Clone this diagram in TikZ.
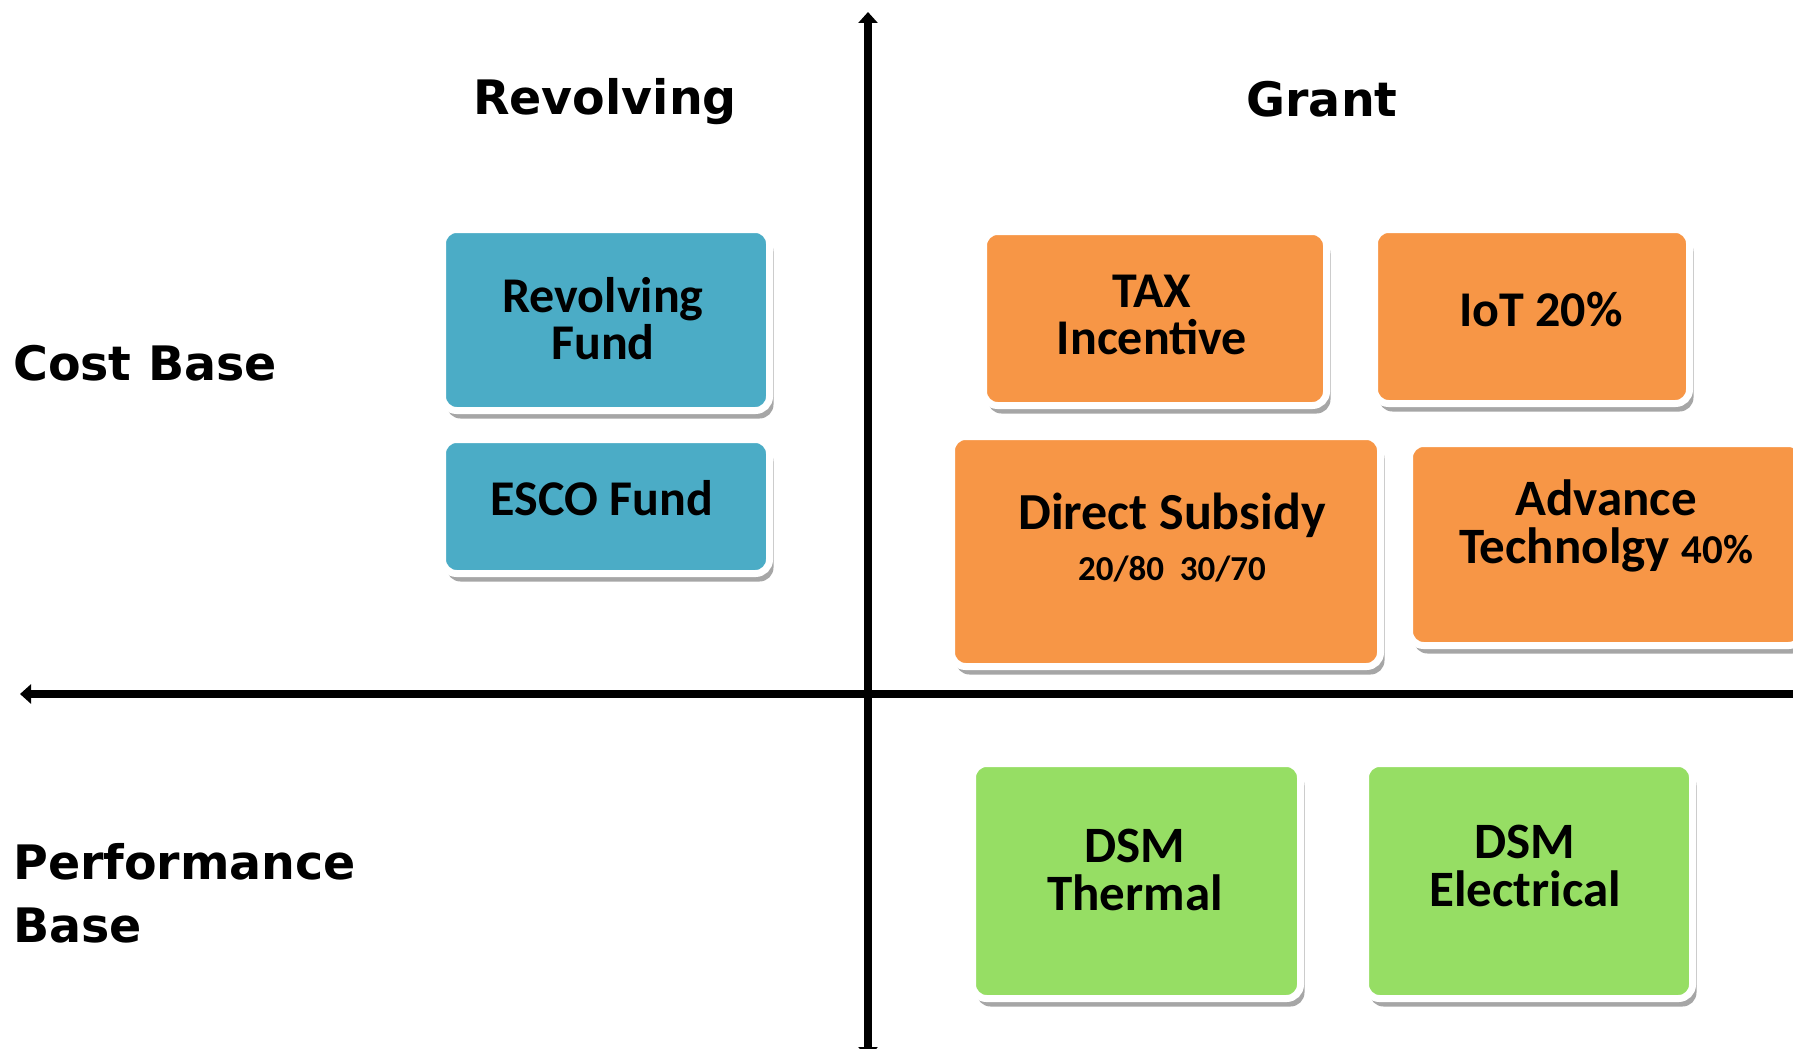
\documentclass[tikz,border=0pt]{standalone}
\usepackage{fontspec}
\usepackage{xcolor}
\usepackage{tikz}
\usetikzlibrary{arrows.meta, positioning, shadows}
\newfontfamily\headfont{DejaVu Sans}
\newfontfamily\boxfont{Carlito}
\definecolor{aqua}{RGB}{75, 172, 198}
\definecolor{tangerine}{RGB}{247, 150, 70}
\definecolor{leaf}{RGB}{150, 222, 100}
\tikzstyle{fund} = [rectangle, rounded corners=14pt, draw=white, line width=7pt, drop shadow={shadow xshift=4pt, shadow yshift=-8pt, opacity=0.35, fill=black}]
\tikzstyle{heading} = [font=\headfont\bfseries\fontsize{47.5}{63}\selectfont, inner sep=0pt]
\tikzstyle{boxtext} = [font=\boxfont\bfseries\fontsize{50}{47}\selectfont, align=center, inner sep=0pt]
\tikzstyle{axis} = [line width=7.5pt, >={Triangle[width=19pt, length=11pt]}]

\begin{document}
\begin{tikzpicture}[x=1pt, y=-1pt]
    \useasboundingbox (0,0) rectangle (1793,1049);

    % Axes
    \coordinate (ytop) at (868,12);
    \coordinate (ybot) at (868,1058);
    \coordinate (xleft) at (20,694);
    \coordinate (xright) at (1800,694);
    \draw[axis, <->] (ytop) -- (ybot);
    \draw[axis, <-] (xleft) -- (xright);

    % Headings
    \node[heading, anchor=base] (hrev) at (605,114) {Revolving};
    \node[heading, anchor=base] (hgrant) at (1322,116) {Grant};
    \node[heading, anchor=base west] (hcost) at (13,380) {Cost Base};
    \node[heading, anchor=west, align=left] (hperf) at (13,893) {Performance\\Base};

    % Revolving column
    \node[fund, fill=aqua, minimum width=327pt, minimum height=181pt] (revfund) at (606,320) {};
    \node[fund, fill=aqua, minimum width=327pt, minimum height=134pt] (esco) at (606,506.5) {};
    \node[boxtext] (revfundtxt) at (603,319) {Revolving\\Fund};
    \node[boxtext] (escotxt) at (602,498) {ESCO Fund};

    % Grant column, cost base
    \node[fund, fill=tangerine, minimum width=343pt, minimum height=174pt] (tax) at (1155,318.5) {};
    \node[fund, fill=tangerine, minimum width=315pt, minimum height=174pt] (iot) at (1532,316.5) {};
    \node[fund, fill=tangerine, minimum width=429pt, minimum height=230pt] (subsidy) at (1166,551.5) {};
    \node[fund, fill=tangerine, minimum width=393pt, minimum height=202pt] (advtech) at (1606,544.5) {};
    \node[boxtext] (taxtxt) at (1152,315) {TAX\\Incentive};
    \node[boxtext] (iottxt) at (1541,309) {IoT 20\%};
    \node[boxtext, font=\boxfont\bfseries\fontsize{52}{51}\selectfont] (subsidytxt) at (1172,538) {Direct Subsidy\\{\fontsize{35}{40}\selectfont 20/80~~30/70}};
    \node[boxtext, font=\boxfont\bfseries\fontsize{51}{48}\selectfont] (advtxt) at (1606,526) {Advance\\Technolgy {\fontsize{41}{48}\selectfont 40\%}};

    % Grant column, performance base
    \node[fund, fill=leaf, minimum width=328pt, minimum height=235pt] (dsmth) at (1136.5,881) {};
    \node[fund, fill=leaf, minimum width=327pt, minimum height=235pt] (dsmel) at (1529,881) {};
    \node[boxtext, font=\boxfont\bfseries\fontsize{51}{48}\selectfont] (dsmthtxt) at (1135,870) {DSM\\Thermal};
    \node[boxtext, font=\boxfont\bfseries\fontsize{51}{48}\selectfont] (dsmeltxt) at (1525,866) {DSM\\Electrical};
\end{tikzpicture}
\end{document}
